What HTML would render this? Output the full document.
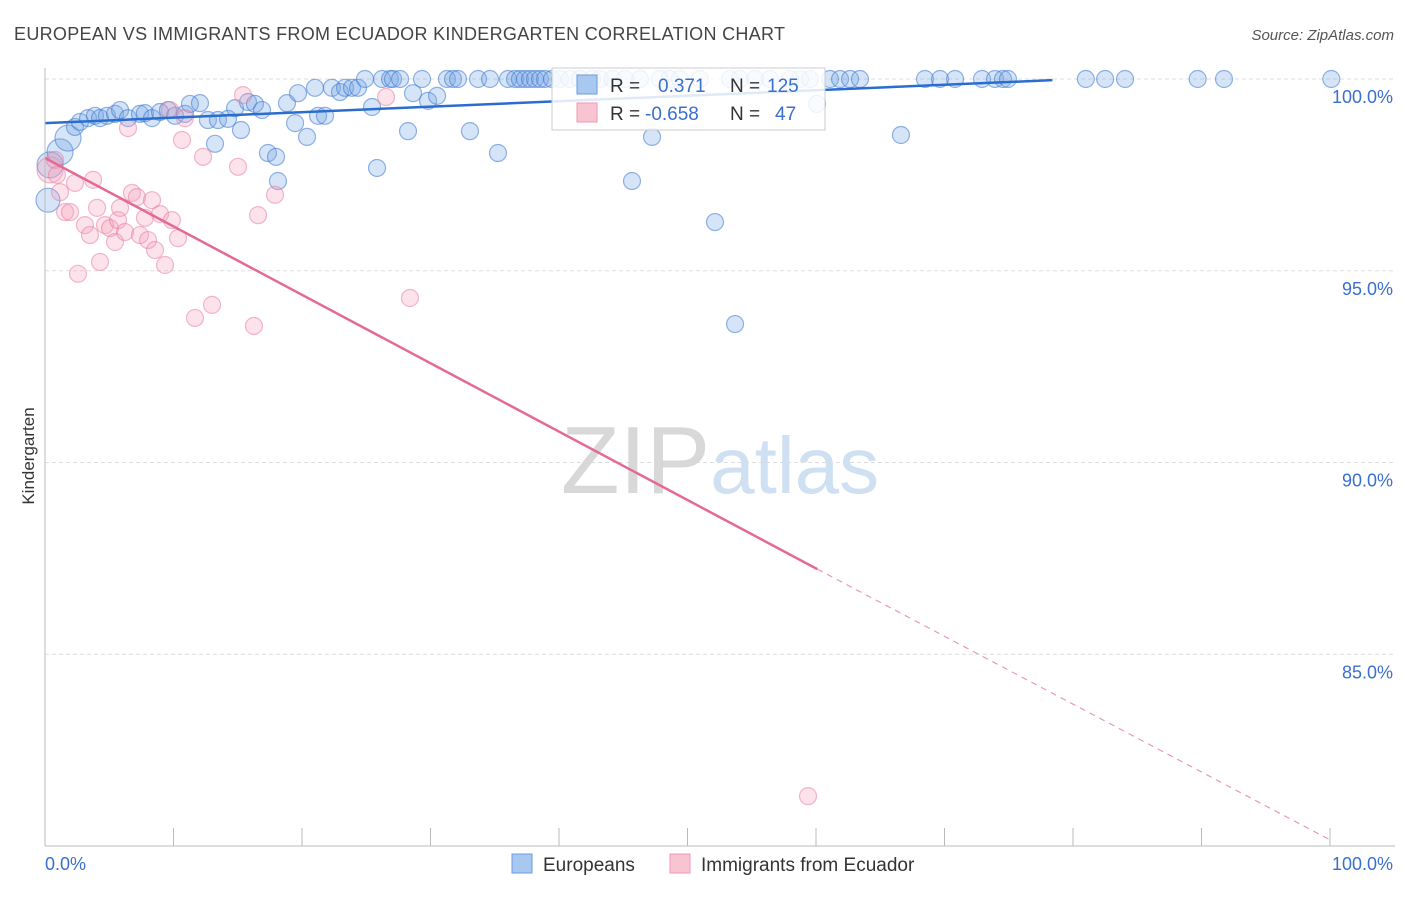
<!DOCTYPE html>
<html><head><meta charset="utf-8"><style>
body{margin:0;background:#fff;font-family:"Liberation Sans",sans-serif;}
svg text{font-family:"Liberation Sans",sans-serif;}
</style></head><body>
<svg id="chart" width="1406" height="892">
<text x="14" y="40" font-size="18" fill="#444" textLength="771">EUROPEAN VS IMMIGRANTS FROM ECUADOR KINDERGARTEN CORRELATION CHART</text>
<text x="1394" y="40" font-size="15" fill="#555" text-anchor="end" font-style="italic">Source: ZipAtlas.com</text>
<text x="0" y="0" transform="translate(34,456) rotate(-90)" font-size="17" fill="#333" text-anchor="middle">Kindergarten</text>
<g id="grid"></g>
<text x="720" y="493" font-size="96" fill="#ddd" text-anchor="middle" font-family="Liberation Serif"><tspan fill="#d8d8d8">ZIP</tspan><tspan fill="#cfe0f2" font-family="Liberation Sans" font-size="80">atlas</tspan></text>
<g id="pts"></g>
<g id="lines"></g>
<g id="axes"></g>
<g>
<rect x="552" y="68" width="273" height="62" fill="rgba(255,255,255,0.85)" stroke="#ccc"/>
<rect x="577" y="75" width="20" height="19" fill="#a8c8f0" stroke="#6a9be0"/>
<rect x="577" y="103" width="20" height="19" fill="#f8c4d2" stroke="#ec9ab2"/>
<text x="610" y="92" font-size="19" fill="#333">R =</text><text x="658" y="92" font-size="19" fill="#3a6fcf">0.371</text>
<text x="730" y="92" font-size="19" fill="#333">N =</text><text x="767" y="92" font-size="19" fill="#3a6fcf">125</text>
<text x="610" y="120" font-size="19" fill="#333">R =</text><text x="645" y="120" font-size="19" fill="#3a6fcf">-0.658</text>
<text x="730" y="120" font-size="19" fill="#333">N =</text><text x="775" y="120" font-size="19" fill="#3a6fcf">47</text>
</g>
<g>
<rect x="512" y="854" width="20" height="19" fill="#a8c8f0" stroke="#6a9be0"/>
<text x="543" y="871" font-size="19" fill="#333">Europeans</text>
<rect x="670" y="854" width="20" height="19" fill="#f8c4d2" stroke="#ec9ab2"/>
<text x="701" y="871" font-size="19" fill="#333">Immigrants from Ecuador</text>
</g>
</svg>
<script>
const blueX=[0.23,0.39,1.17,1.79,2.33,2.72,3.35,3.89,4.28,4.82,5.45,5.84,6.46,7.39,7.78,8.33,8.95,9.57,10.12,10.89,11.28,12.06,12.68,13.23,13.46,14.24,14.79,15.25,15.8,16.34,16.89,17.35,17.98,18.13,18.83,19.46,19.69,20.39,21.01,21.25,21.79,22.33,22.96,23.35,23.89,24.36,24.9,25.45,25.84,26.23,26.85,27.08,27.63,28.25,28.64,29.34,29.81,30.51,31.28,31.75,32.14,33.07,33.7,34.63,35.25,36.03,36.58,36.96,37.35,37.74,38.13,38.52,38.91,39.46,40.08,40.86,41.63,42.57,43.19,44.16,45.14,45.68,46.3,47.24,47.84,48.6,49.4,50.97,52.14,53.3,53.7,54.09,55.25,56.42,57.98,58.75,59.53,60.08,61.09,61.87,62.65,63.42,66.61,68.48,69.65,70.82,72.92,73.93,74.55,74.94,81.0,82.5,84.05,89.7,91.75,100.1];
const blueY=[96.84,97.76,98.1,98.46,98.75,98.88,98.98,99.04,98.98,99.04,99.09,99.19,98.98,99.09,99.11,98.98,99.14,99.19,99.04,99.09,99.35,99.37,98.93,98.31,98.93,98.96,99.24,98.67,99.4,99.35,99.19,98.07,97.97,97.34,99.37,98.85,99.63,98.49,99.77,99.04,99.04,99.77,99.66,99.77,99.77,99.77,100.0,99.27,97.68,100.0,100.0,100.0,100.0,98.64,99.63,100.0,99.43,99.56,100.0,100.0,100.0,98.64,100.0,100.0,98.07,100.0,100.0,100.0,100.0,100.0,100.0,100.0,100.0,100.0,100.0,100.0,100.0,100.0,100.0,100.0,100.0,97.34,100.0,98.49,100.0,100.0,100.0,100.0,96.27,100.0,93.61,100.0,100.0,100.0,100.0,100.0,100.0,99.35,100.0,100.0,100.0,100.0,98.54,100.0,100.0,100.0,100.0,100.0,100.0,100.0,100.0,100.0,100.0,100.0,100.0,100.0];
const pinkX=[0.39,0.78,0.93,1.17,1.56,1.95,2.33,2.57,3.11,3.5,3.74,4.05,4.28,4.67,5.06,5.45,5.68,5.84,6.23,6.46,6.77,7.16,7.39,7.78,8.02,8.33,8.56,8.95,9.34,9.73,9.88,10.35,10.66,10.89,11.67,12.3,13.0,15.02,15.41,16.26,16.58,17.9,26.54,28.4,59.38];
const pinkY=[97.63,97.89,97.5,97.05,96.53,96.53,97.29,94.92,96.19,95.93,97.37,96.64,95.23,96.19,96.11,95.75,96.32,96.64,96.01,98.72,97.03,96.92,95.93,96.38,95.8,96.84,95.54,96.48,95.15,99.19,96.32,95.85,98.41,98.98,93.77,97.97,94.11,97.71,99.58,93.56,96.45,96.98,99.53,94.29,81.3];
const blueTrend=[[0,98.85],[78.4,99.97]];
const pinkTrend=[[0,97.94],[60.1,87.22],[100,80.16]];
const yTicks=[100,95,90,85];
const yTickLabels=["100.0%","95.0%","90.0%","85.0%"];
const xTicks=[0,10,20,30,40,50,60,70,80,90,100];
const NS="http://www.w3.org/2000/svg";
const X=v=>45+v*12.85, Y=v=>79+(100-v)*38.35;
function mk(tag,attrs,parent){const e=document.createElementNS(NS,tag);for(const k in attrs)e.setAttribute(k,attrs[k]);parent.appendChild(e);return e;}
const grid=document.getElementById('grid'),axes=document.getElementById('axes'),pts=document.getElementById('pts'),lines=document.getElementById('lines');
yTicks.forEach((t,i)=>{const l=mk('line',{x1:45,x2:1395,y1:Y(t),y2:Y(t),stroke:'#ddd','stroke-dasharray':'4,3'},grid);

const tx=mk('text',{x:1393,y:Y(t)+24,'font-size':18,fill:'#3a6fcf','text-anchor':'end'},axes);tx.textContent=yTickLabels[i];
});
const ax=mk('line',{x1:45,x2:45,y1:68,y2:846,stroke:'#bbb'},axes);
const bx=mk('line',{x1:45,x2:1395,y1:846,y2:846,stroke:'#bbb'},axes);
xTicks.forEach(t=>{const l=mk('line',{x1:X(t),x2:X(t),y1:828,y2:846,stroke:'#bbb'},axes);});
let t0=mk('text',{x:45,y:870,'font-size':18,fill:'#3a6fcf'},axes);t0.textContent='0.0%';
let t1=mk('text',{x:1393,y:870,'font-size':18,fill:'#3a6fcf','text-anchor':'end'},axes);t1.textContent='100.0%';
blueX.forEach((v,i)=>{const r=i<1?12:(i<4?13:8.5);const c=mk('circle',{cx:X(v),cy:Y(blueY[i]),r:r,fill:'rgba(120,165,230,0.3)',stroke:'rgba(60,120,210,0.55)','stroke-width':1.2},pts);
});
pinkX.forEach((v,i)=>{const r=i<1?13:8.5;const c=mk('circle',{cx:X(v),cy:Y(pinkY[i]),r:r,fill:'rgba(245,160,185,0.3)',stroke:'rgba(230,120,155,0.5)','stroke-width':1.2},pts);
});
let bl=mk('line',{x1:X(blueTrend[0][0]),y1:Y(blueTrend[0][1]),x2:X(blueTrend[1][0]),y2:Y(blueTrend[1][1]),stroke:'#2a6dd0','stroke-width':2.5},lines);

let pl=mk('line',{x1:X(pinkTrend[0][0]),y1:Y(pinkTrend[0][1]),x2:X(pinkTrend[1][0]),y2:Y(pinkTrend[1][1]),stroke:'#e46a95','stroke-width':2.5},lines);

let pd=mk('line',{x1:X(pinkTrend[1][0]),y1:Y(pinkTrend[1][1]),x2:X(pinkTrend[2][0]),y2:Y(pinkTrend[2][1]),stroke:'#e99ab5','stroke-width':1.2,'stroke-dasharray':'6,5'},lines);

</script>
</body></html>
